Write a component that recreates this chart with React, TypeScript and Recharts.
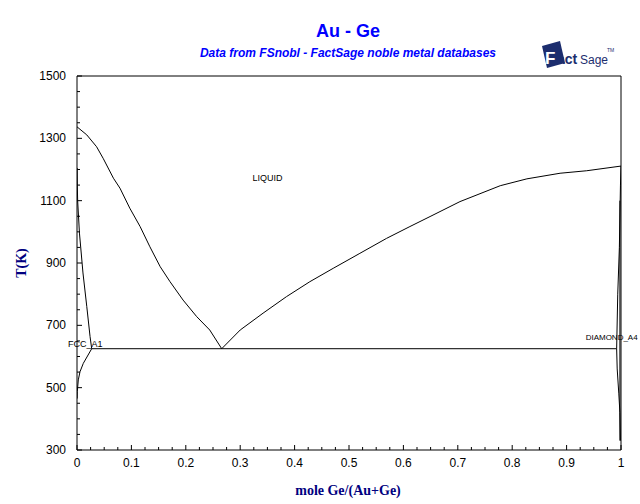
import React from 'react'
import { LineChart, Line, XAxis, YAxis, ReferenceDot } from 'recharts'

// phase boundaries, x = mole fraction Ge, t = temperature (K)
const liquidusAu = [
  { x: 0, t: 1337 },
  { x: 0.018, t: 1311 },
  { x: 0.036, t: 1273 },
  { x: 0.048, t: 1236 },
  { x: 0.067, t: 1172 },
  { x: 0.079, t: 1140 },
  { x: 0.097, t: 1076 },
  { x: 0.116, t: 1017 },
  { x: 0.134, t: 952 },
  { x: 0.153, t: 888 },
  { x: 0.171, t: 840 },
  { x: 0.195, t: 781 },
  { x: 0.22, t: 728 },
  { x: 0.244, t: 685 },
  { x: 0.266, t: 625 },
]

const liquidusGe = [
  { x: 0.266, t: 625 },
  { x: 0.3, t: 685 },
  { x: 0.342, t: 739 },
  { x: 0.385, t: 792 },
  { x: 0.428, t: 840 },
  { x: 0.471, t: 883 },
  { x: 0.52, t: 931 },
  { x: 0.569, t: 979 },
  { x: 0.612, t: 1017 },
  { x: 0.649, t: 1049 },
  { x: 0.704, t: 1097 },
  { x: 0.778, t: 1148 },
  { x: 0.827, t: 1170 },
  { x: 0.888, t: 1188 },
  { x: 0.937, t: 1196 },
  { x: 1, t: 1211 },
]

const solidusFcc = [
  { x: 0.0003, t: 1205 },
  { x: 0.0006, t: 1150 },
  { x: 0.0012, t: 1100 },
  { x: 0.0045, t: 996 },
  { x: 0.011, t: 868 },
  { x: 0.018, t: 760 },
  { x: 0.024, t: 664 },
  { x: 0.027, t: 625 },
]

const solvusFcc = [
  { x: 0.027, t: 625 },
  { x: 0.0116, t: 578 },
  { x: 0.0055, t: 551 },
  { x: 0.0024, t: 525 },
  { x: 0.0005, t: 487 },
  { x: 0.0003, t: 465 },
]

const eutectic = [
  { x: 0.027, t: 625 },
  { x: 0.992, t: 625 },
]

const diamondBoundary = [
  { x: 1, t: 1211 },
  { x: 0.999, t: 1150 },
  { x: 0.997, t: 950 },
  { x: 0.994, t: 800 },
  { x: 0.992, t: 625 },
  { x: 0.993, t: 560 },
  { x: 0.996, t: 480 },
  { x: 0.998, t: 420 },
  { x: 0.999, t: 330 },
]

const diamondSolvus = [
  { x: 0.998, t: 1100 },
  { x: 0.998, t: 330 },
]

const series = [liquidusAu, liquidusGe, solidusFcc, solvusFcc, eutectic, diamondBoundary, diamondSolvus]

const xTicks = Array.from({ length: 41 }, (_, i) => i * 0.025)
const yTicks = Array.from({ length: 25 }, (_, i) => 300 + i * 50)

const phaseLabels = [
  { name: 'LIQUID', x: 0.35, t: 1173, anchor: 'middle', size: 9 },
  { name: 'FCC_A1', x: 0.015, t: 640, anchor: 'middle', size: 9 },
  { name: 'DIAMOND_A4', x: 0.935, t: 663, anchor: 'start', size: 8 },
]

const font = 'Arial, "Liberation Sans", sans-serif'
const serif = '"Liberation Serif", "DejaVu Serif", serif'

const isMajorX = (v: number) => Math.abs(v * 10 - Math.round(v * 10)) < 1e-6
const isMajorY = (v: number) => Math.abs((v - 300) / 200 - Math.round((v - 300) / 200)) < 1e-6

const BottomTick = ({ x, y, payload }: any) => {
  const v = payload.value
  const major = isMajorX(v)
  const axisY = y - 9
  return (
    <g>
      <line x1={x} x2={x} y1={axisY} y2={axisY - (major ? 5 : 3)} stroke="#000" />
      {major && (
        <text x={x} y={y + 8} textAnchor="middle" fontSize={12} fontFamily={font} fill="#000">
          {String(Math.round(v * 10) / 10)}
        </text>
      )}
    </g>
  )
}

const TopTick = ({ x, y, payload }: any) => {
  const major = isMajorX(payload.value)
  return <line x1={x} x2={x} y1={y} y2={y + (major ? 5 : 3)} stroke="#000" />
}

const LeftTick = ({ x, y, payload }: any) => {
  const v = payload.value
  const major = isMajorY(v)
  const axisX = x + 11
  return (
    <g>
      <line x1={axisX} x2={axisX + (major ? 5 : 3)} y1={y} y2={y} stroke="#000" />
      {major && (
        <text x={x} y={y + 4} textAnchor="end" fontSize={12} fontFamily={font} fill="#000">
          {v}
        </text>
      )}
    </g>
  )
}

const RightTick = ({ x, y, payload }: any) => {
  const major = isMajorY(payload.value)
  return <line x1={x} x2={x - (major ? 5 : 3)} y1={y} y2={y} stroke="#000" />
}

export default function App() {
  return (
    <div style={{ position: 'absolute', left: 0, top: 0, width: 640, height: 504, background: '#fff' }}>
      <LineChart width={640} height={504} margin={{ top: 0, right: 0, bottom: 0, left: 0 }}>
        <XAxis
          xAxisId="x"
          type="number"
          dataKey="x"
          domain={[0, 1]}
          ticks={xTicks}
          interval={0}
          height={54}
          tickSize={0}
          tickMargin={9}
          tick={<BottomTick />}
          axisLine={{ stroke: '#000' }}
          tickLine={false}
          allowDataOverflow
        />
        <XAxis
          xAxisId="xt"
          orientation="top"
          type="number"
          domain={[0, 1]}
          ticks={xTicks}
          interval={0}
          height={76}
          tickSize={0}
          tickMargin={0}
          tick={<TopTick />}
          axisLine={{ stroke: '#000' }}
          tickLine={false}
        />
        <YAxis
          yAxisId="y"
          type="number"
          domain={[300, 1500]}
          ticks={yTicks}
          interval={0}
          width={77}
          tickSize={0}
          tickMargin={11}
          tick={<LeftTick />}
          axisLine={{ stroke: '#000' }}
          tickLine={false}
          allowDataOverflow
        />
        <YAxis
          yAxisId="yr"
          orientation="right"
          type="number"
          domain={[300, 1500]}
          ticks={yTicks}
          interval={0}
          width={19}
          tickSize={0}
          tickMargin={0}
          tick={<RightTick />}
          axisLine={{ stroke: '#000' }}
          tickLine={false}
        />
        {series.map((d, i) => (
          <Line
            key={i}
            xAxisId="x"
            yAxisId="y"
            data={d}
            dataKey="t"
            type="linear"
            stroke="#000"
            strokeWidth={1}
            dot={false}
            isAnimationActive={false}
          />
        ))}
        {phaseLabels.map((p) => (
          <ReferenceDot
            key={p.name}
            xAxisId="x"
            yAxisId="y"
            x={p.x}
            y={p.t}
            r={0}
            ifOverflow="visible"
            shape={(props: any) => (
              <text x={props.cx} y={props.cy + 3} textAnchor={p.anchor} fontSize={p.size} fontFamily={font} fill="#000">
                {p.name}
              </text>
            )}
          />
        ))}
      </LineChart>
      <svg width={640} height={504} style={{ position: 'absolute', left: 0, top: 0, pointerEvents: 'none' }}>
        <text x={348} y={37} textAnchor="middle" fontSize={18} fontWeight="bold" fontFamily={font} fill="#0000ff">
          Au - Ge
        </text>
        <text x={348} y={57} textAnchor="middle" fontSize={12} fontWeight="bold" fontStyle="italic" fontFamily={font} fill="#0000ff">
          Data from FSnobl - FactSage noble metal databases
        </text>
        <g>
          <polygon points="542,46 560,41 565,63 547,68" fill="#1c2d6e" />
          <text x={545} y={64} fontSize={17} fontWeight="bold" fontFamily={font} fill="#fff">F</text>
          <text x={557} y={64} fontSize={14} fontWeight="bold" fontFamily={font} fill="#1c2d6e">act</text>
          <text x={580} y={64} fontSize={12} fontFamily={font} fill="#1c2d6e">Sage</text>
          <text x={607} y={52} fontSize={5} fontFamily={font} fill="#1c2d6e">TM</text>
        </g>
        <text x={26} y={263} textAnchor="middle" fontSize={14} fontWeight="bold" fontFamily={serif} fill="#000080" transform="rotate(-90 26 263)">
          T(K)
        </text>
        <text x={348} y={495} textAnchor="middle" fontSize={14} fontWeight="bold" fontFamily={serif} fill="#000080">
          mole Ge/(Au+Ge)
        </text>
      </svg>
    </div>
  )
}
